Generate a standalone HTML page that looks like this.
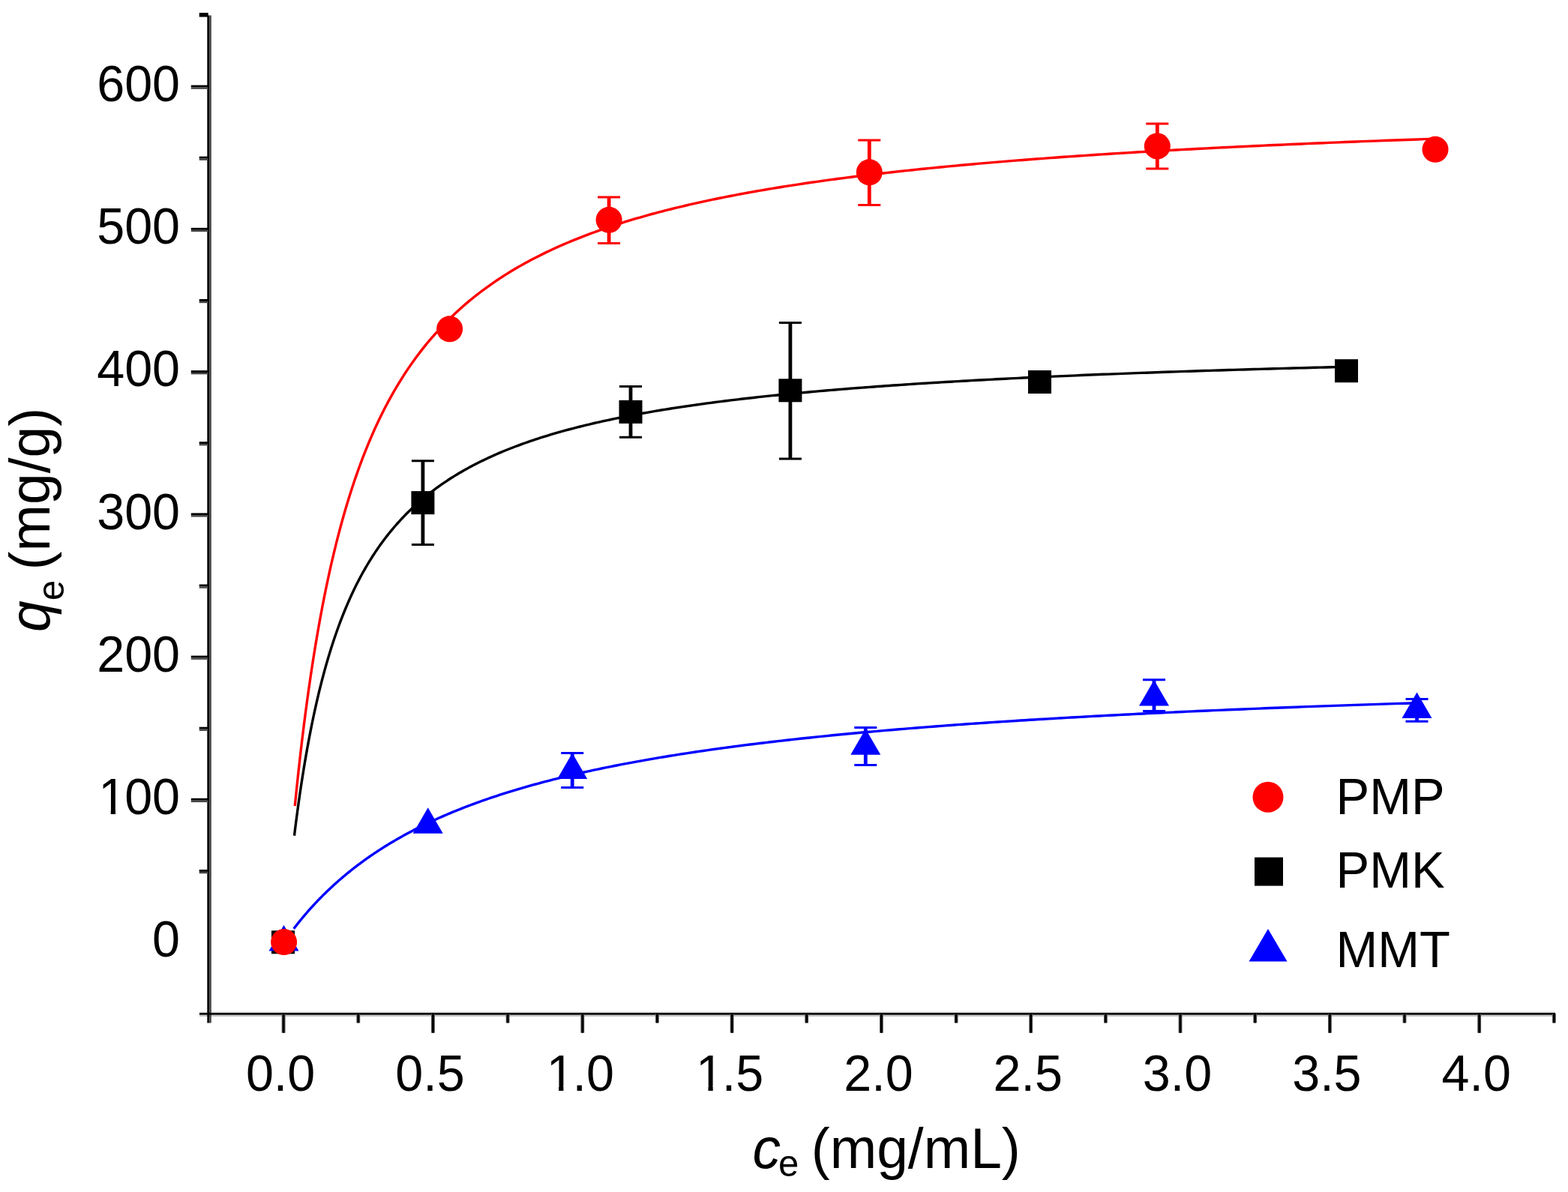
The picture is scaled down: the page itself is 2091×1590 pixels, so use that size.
<!DOCTYPE html>
<html><head><meta charset="utf-8"><style>
html,body{margin:0;padding:0;background:#fff;}
svg{display:block;}
.tl{font-family:"Liberation Sans",Arial,sans-serif;font-size:66.5px;fill:#000;}
.lg{font-family:"Liberation Sans",Arial,sans-serif;font-size:67px;fill:#000;}
.tt{font-family:"Liberation Sans",Arial,sans-serif;font-size:75px;fill:#000;}
.sb{font-family:"Liberation Sans",Arial,sans-serif;font-size:49px;fill:#000;}
</style></head><body>
<svg width="2091" height="1590" viewBox="0 0 2091 1590">
<rect width="2091" height="1590" fill="#fff"/>
<rect x="266" y="1348.3" width="1808" height="2.6" fill="#eee"/>
<rect x="266" y="1353.7" width="1808" height="2.4" fill="#c8c8c8"/>
<rect x="276.3" y="20.5" width="3.0" height="1344" fill="#000"/>
<rect x="279.3" y="20.5" width="2.5" height="1344" fill="#444"/>
<rect x="266" y="1350.9" width="1808" height="2.8" fill="#000"/>
<rect x="265.7" y="1160.0" width="12" height="2.9" fill="#000"/><rect x="265.7" y="1162.9" width="12" height="2.3" fill="#444"/>
<rect x="254.8" y="1064.8" width="23" height="2.9" fill="#000"/><rect x="254.8" y="1067.8" width="23" height="2.3" fill="#444"/>
<rect x="265.7" y="969.7" width="12" height="2.9" fill="#000"/><rect x="265.7" y="972.6" width="12" height="2.3" fill="#444"/>
<rect x="254.8" y="874.6" width="23" height="2.9" fill="#000"/><rect x="254.8" y="877.5" width="23" height="2.3" fill="#444"/>
<rect x="265.7" y="779.5" width="12" height="2.9" fill="#000"/><rect x="265.7" y="782.4" width="12" height="2.3" fill="#444"/>
<rect x="254.8" y="684.4" width="23" height="2.9" fill="#000"/><rect x="254.8" y="687.2" width="23" height="2.3" fill="#444"/>
<rect x="265.7" y="589.2" width="12" height="2.9" fill="#000"/><rect x="265.7" y="592.1" width="12" height="2.3" fill="#444"/>
<rect x="254.8" y="494.1" width="23" height="2.9" fill="#000"/><rect x="254.8" y="497.0" width="23" height="2.3" fill="#444"/>
<rect x="265.7" y="399.0" width="12" height="2.9" fill="#000"/><rect x="265.7" y="401.9" width="12" height="2.3" fill="#444"/>
<rect x="254.8" y="303.9" width="23" height="2.9" fill="#000"/><rect x="254.8" y="306.8" width="23" height="2.3" fill="#444"/>
<rect x="265.7" y="208.7" width="12" height="2.9" fill="#000"/><rect x="265.7" y="211.6" width="12" height="2.3" fill="#444"/>
<rect x="254.8" y="113.6" width="23" height="2.9" fill="#000"/><rect x="254.8" y="116.5" width="23" height="2.3" fill="#444"/>
<rect x="265.7" y="17.1" width="12" height="5.5" fill="#000"/>
<rect x="375.7" y="1352" width="4.8" height="25.7" fill="#555"/><rect x="376.7" y="1352" width="2.8" height="25.7" fill="#000"/>
<rect x="475.4" y="1352" width="4.8" height="12.4" fill="#555"/><rect x="476.4" y="1352" width="2.8" height="12.4" fill="#000"/>
<rect x="575.0" y="1352" width="4.8" height="25.7" fill="#555"/><rect x="576.0" y="1352" width="2.8" height="25.7" fill="#000"/>
<rect x="674.7" y="1352" width="4.8" height="12.4" fill="#555"/><rect x="675.7" y="1352" width="2.8" height="12.4" fill="#000"/>
<rect x="774.4" y="1352" width="4.8" height="25.7" fill="#555"/><rect x="775.4" y="1352" width="2.8" height="25.7" fill="#000"/>
<rect x="874.0" y="1352" width="4.8" height="12.4" fill="#555"/><rect x="875.0" y="1352" width="2.8" height="12.4" fill="#000"/>
<rect x="973.7" y="1352" width="4.8" height="25.7" fill="#555"/><rect x="974.7" y="1352" width="2.8" height="25.7" fill="#000"/>
<rect x="1073.3" y="1352" width="4.8" height="12.4" fill="#555"/><rect x="1074.3" y="1352" width="2.8" height="12.4" fill="#000"/>
<rect x="1173.0" y="1352" width="4.8" height="25.7" fill="#555"/><rect x="1174.0" y="1352" width="2.8" height="25.7" fill="#000"/>
<rect x="1272.7" y="1352" width="4.8" height="12.4" fill="#555"/><rect x="1273.7" y="1352" width="2.8" height="12.4" fill="#000"/>
<rect x="1372.3" y="1352" width="4.8" height="25.7" fill="#555"/><rect x="1373.3" y="1352" width="2.8" height="25.7" fill="#000"/>
<rect x="1472.0" y="1352" width="4.8" height="12.4" fill="#555"/><rect x="1473.0" y="1352" width="2.8" height="12.4" fill="#000"/>
<rect x="1571.6" y="1352" width="4.8" height="25.7" fill="#555"/><rect x="1572.6" y="1352" width="2.8" height="25.7" fill="#000"/>
<rect x="1671.3" y="1352" width="4.8" height="12.4" fill="#555"/><rect x="1672.3" y="1352" width="2.8" height="12.4" fill="#000"/>
<rect x="1771.0" y="1352" width="4.8" height="25.7" fill="#555"/><rect x="1772.0" y="1352" width="2.8" height="25.7" fill="#000"/>
<rect x="1870.6" y="1352" width="4.8" height="12.4" fill="#555"/><rect x="1871.6" y="1352" width="2.8" height="12.4" fill="#000"/>
<rect x="1970.3" y="1352" width="4.8" height="25.7" fill="#555"/><rect x="1971.3" y="1352" width="2.8" height="25.7" fill="#000"/>
<rect x="2070.0" y="1352" width="4.8" height="12.4" fill="#555"/><rect x="2071.0" y="1352" width="2.8" height="12.4" fill="#000"/>
<text transform="translate(203.12,1276.3) scale(1,1.025)" class="tl">0</text>
<text transform="translate(129.15,1086.0) scale(1,1.025)" class="tl"><tspan dx="2.1">1</tspan><tspan dx="-2.1">00</tspan></text>
<text transform="translate(129.15,895.8) scale(1,1.025)" class="tl">200</text>
<text transform="translate(129.15,705.5) scale(1,1.025)" class="tl">300</text>
<text transform="translate(129.15,515.3) scale(1,1.025)" class="tl">400</text>
<text transform="translate(129.15,325.1) scale(1,1.025)" class="tl">500</text>
<text transform="translate(129.15,134.8) scale(1,1.025)" class="tl">600</text>
<text transform="translate(327.88,1455) scale(1,1.025)" class="tl">0.0</text>
<text transform="translate(527.20,1455) scale(1,1.025)" class="tl">0.5</text>
<text transform="translate(726.53,1455) scale(1,1.025)" class="tl"><tspan dx="2.1">1</tspan><tspan dx="-2.1">.0</tspan></text>
<text transform="translate(925.85,1455) scale(1,1.025)" class="tl"><tspan dx="2.1">1</tspan><tspan dx="-2.1">.5</tspan></text>
<text transform="translate(1125.18,1455) scale(1,1.025)" class="tl">2.0</text>
<text transform="translate(1324.50,1455) scale(1,1.025)" class="tl">2.5</text>
<text transform="translate(1523.83,1455) scale(1,1.025)" class="tl">3.0</text>
<text transform="translate(1723.15,1455) scale(1,1.025)" class="tl">3.5</text>
<text transform="translate(1922.48,1455) scale(1,1.025)" class="tl">4.0</text>
<rect x="134.75" y="1079.35" width="13.00" height="7.4" fill="#fff"/><rect x="154.00" y="1079.35" width="13" height="7.4" fill="#fff"/>
<rect x="732.13" y="1448.30" width="13.00" height="7.4" fill="#fff"/><rect x="751.38" y="1448.30" width="13" height="7.4" fill="#fff"/>
<rect x="931.45" y="1448.30" width="13.00" height="7.4" fill="#fff"/><rect x="950.70" y="1448.30" width="13" height="7.4" fill="#fff"/>
<path d="M392.45,1114.78 L392.46,1114.71 L392.49,1114.49 L392.53,1114.13 L392.59,1113.63 L392.67,1112.99 L392.77,1112.20 L392.88,1111.27 L393.02,1110.20 L393.17,1108.99 L393.33,1107.65 L393.52,1106.17 L393.72,1104.56 L393.94,1102.82 L394.18,1100.95 L394.43,1098.95 L394.71,1096.83 L395.00,1094.59 L395.31,1092.22 L395.63,1089.74 L395.98,1087.15 L396.34,1084.45 L396.72,1081.64 L397.11,1078.73 L397.53,1075.71 L397.96,1072.60 L398.41,1069.39 L398.88,1066.10 L399.36,1062.71 L399.86,1059.25 L400.38,1055.70 L400.92,1052.07 L401.48,1048.37 L402.05,1044.61 L402.64,1040.77 L403.25,1036.87 L403.87,1032.92 L404.52,1028.90 L405.18,1024.84 L405.86,1020.72 L406.55,1016.56 L407.27,1012.36 L408.00,1008.12 L408.75,1003.84 L409.51,999.53 L410.30,995.19 L411.10,990.82 L411.92,986.43 L412.76,982.02 L413.61,977.59 L414.48,973.14 L415.37,968.69 L416.28,964.22 L417.21,959.74 L418.15,955.26 L419.11,950.77 L420.09,946.29 L421.09,941.80 L422.10,937.32 L423.13,932.85 L424.18,928.38 L425.24,923.93 L426.33,919.48 L427.43,915.05 L428.55,910.63 L429.69,906.22 L430.84,901.84 L432.01,897.47 L433.20,893.13 L434.41,888.80 L435.64,884.50 L436.88,880.22 L438.14,875.97 L439.42,871.75 L440.71,867.55 L442.02,863.38 L443.36,859.24 L444.70,855.12 L446.07,851.04 L447.45,846.99 L448.86,842.97 L450.27,838.98 L451.71,835.03 L453.16,831.11 L454.64,827.22 L456.13,823.37 L457.63,819.55 L459.16,815.76 L460.70,812.01 L462.26,808.30 L463.84,804.62 L465.43,800.98 L467.05,797.37 L468.68,793.80 L470.32,790.26 L471.99,786.76 L473.67,783.30 L475.37,779.87 L477.09,776.48 L478.83,773.12 L480.58,769.80 L482.35,766.52 L484.14,763.27 L485.95,760.06 L487.77,756.88 L489.62,753.74 L491.47,750.64 L493.35,747.56 L495.25,744.53 L497.16,741.53 L499.09,738.56 L501.04,735.62 L503.00,732.73 L504.99,729.86 L506.99,727.03 L509.00,724.23 L511.04,721.46 L513.09,718.73 L515.16,716.03 L517.25,713.36 L519.36,710.72 L521.48,708.12 L523.63,705.54 L525.78,703.00 L527.96,700.49 L530.16,698.00 L532.37,695.55 L534.60,693.13 L536.84,690.74 L539.11,688.37 L541.39,686.04 L543.69,683.73 L546.01,681.45 L548.35,679.20 L550.70,676.97 L553.07,674.78 L555.46,672.61 L557.86,670.46 L560.29,668.35 L562.73,666.26 L565.19,664.19 L567.66,662.15 L570.16,660.14 L572.67,658.15 L575.20,656.18 L577.75,654.24 L580.31,652.32 L582.89,650.42 L585.49,648.55 L588.11,646.70 L590.75,644.88 L593.40,643.07 L596.07,641.29 L598.76,639.53 L601.46,637.79 L604.19,636.07 L606.93,634.38 L609.68,632.70 L612.46,631.04 L615.25,629.41 L618.07,627.79 L620.89,626.20 L623.74,624.62 L626.61,623.06 L629.49,621.52 L632.39,620.00 L635.30,618.50 L638.24,617.01 L641.19,615.54 L644.16,614.10 L647.15,612.66 L650.15,611.25 L653.18,609.85 L656.22,608.47 L659.28,607.10 L662.35,605.75 L665.44,604.42 L668.56,603.10 L671.68,601.80 L674.83,600.51 L677.99,599.24 L681.18,597.98 L684.38,596.74 L687.59,595.51 L690.83,594.30 L694.08,593.10 L697.35,591.91 L700.64,590.74 L703.94,589.58 L707.26,588.44 L710.60,587.31 L713.96,586.19 L717.34,585.08 L720.73,583.99 L724.14,582.91 L727.57,581.84 L731.01,580.78 L734.48,579.74 L737.96,578.70 L741.46,577.68 L744.97,576.67 L748.51,575.68 L752.06,574.69 L755.63,573.71 L759.22,572.75 L762.82,571.79 L766.44,570.85 L770.08,569.91 L773.74,568.99 L777.41,568.08 L781.11,567.17 L784.82,566.28 L788.55,565.40 L792.29,564.52 L796.05,563.66 L799.84,562.80 L803.63,561.96 L807.45,561.12 L811.28,560.29 L815.13,559.47 L819.00,558.66 L822.89,557.86 L826.79,557.07 L830.72,556.28 L834.66,555.51 L838.61,554.74 L842.59,553.98 L846.58,553.23 L850.59,552.48 L854.62,551.75 L858.66,551.02 L862.73,550.30 L866.81,549.58 L870.90,548.88 L875.02,548.18 L879.15,547.49 L883.30,546.80 L887.47,546.13 L891.66,545.46 L895.86,544.79 L900.08,544.14 L904.32,543.49 L908.58,542.84 L912.85,542.20 L917.15,541.57 L921.46,540.95 L925.78,540.33 L930.13,539.72 L934.49,539.11 L938.87,538.51 L943.27,537.92 L947.68,537.33 L952.12,536.75 L956.57,536.17 L961.04,535.60 L965.52,535.04 L970.02,534.48 L974.55,533.92 L979.08,533.38 L983.64,532.83 L988.21,532.29 L992.81,531.76 L997.42,531.23 L1002.04,530.71 L1006.69,530.19 L1011.35,529.68 L1016.03,529.17 L1020.73,528.67 L1025.44,528.17 L1030.17,527.68 L1034.92,527.19 L1039.69,526.70 L1044.48,526.22 L1049.28,525.75 L1054.10,525.28 L1058.94,524.81 L1063.80,524.35 L1068.67,523.89 L1073.56,523.44 L1078.47,522.99 L1083.40,522.54 L1088.34,522.10 L1093.30,521.66 L1098.28,521.23 L1103.28,520.80 L1108.29,520.38 L1113.32,519.95 L1118.37,519.54 L1123.44,519.12 L1128.53,518.71 L1133.63,518.31 L1138.75,517.90 L1143.89,517.50 L1149.04,517.11 L1154.22,516.72 L1159.41,516.33 L1164.62,515.94 L1169.84,515.56 L1175.09,515.18 L1180.35,514.81 L1185.63,514.43 L1190.92,514.06 L1196.24,513.70 L1201.57,513.34 L1206.92,512.98 L1212.29,512.62 L1217.67,512.27 L1223.07,511.92 L1228.49,511.57 L1233.93,511.23 L1239.39,510.89 L1244.86,510.55 L1250.35,510.21 L1255.86,509.88 L1261.38,509.55 L1266.93,509.22 L1272.49,508.90 L1278.07,508.58 L1283.66,508.26 L1289.28,507.94 L1294.91,507.63 L1300.56,507.32 L1306.23,507.01 L1311.91,506.71 L1317.61,506.40 L1323.33,506.10 L1329.07,505.80 L1334.82,505.51 L1340.60,505.21 L1346.39,504.92 L1352.19,504.64 L1358.02,504.35 L1363.86,504.07 L1369.72,503.78 L1375.60,503.50 L1381.50,503.23 L1387.41,502.95 L1393.34,502.68 L1399.29,502.41 L1405.26,502.14 L1411.24,501.87 L1417.24,501.61 L1423.26,501.35 L1429.30,501.09 L1435.35,500.83 L1441.43,500.57 L1447.52,500.32 L1453.62,500.07 L1459.75,499.82 L1465.89,499.57 L1472.05,499.32 L1478.23,499.08 L1484.43,498.84 L1490.64,498.60 L1496.87,498.36 L1503.12,498.12 L1509.38,497.89 L1515.67,497.65 L1521.97,497.42 L1528.29,497.19 L1534.62,496.97 L1540.98,496.74 L1547.35,496.52 L1553.74,496.29 L1560.15,496.07 L1566.57,495.85 L1573.01,495.63 L1579.47,495.42 L1585.95,495.20 L1592.45,494.99 L1598.96,494.78 L1605.49,494.57 L1612.04,494.36 L1618.60,494.15 L1625.19,493.95 L1631.79,493.75 L1638.41,493.54 L1645.04,493.34 L1651.70,493.14 L1658.37,492.95 L1665.06,492.75 L1671.76,492.55 L1678.49,492.36 L1685.23,492.17 L1691.99,491.98 L1698.77,491.79 L1705.56,491.60 L1712.38,491.41 L1719.21,491.23 L1726.05,491.05 L1732.92,490.86 L1739.80,490.68 L1746.70,490.50 L1753.62,490.32 L1760.56,490.14 L1767.51,489.97 L1774.48,489.79 L1781.47,489.62 L1788.48,489.45 L1795.50,489.27" stroke="#000" stroke-width="3.4" fill="none"/>
<path d="M393.25,1075.07 L393.26,1074.97 L393.29,1074.68 L393.34,1074.20 L393.40,1073.52 L393.49,1072.65 L393.59,1071.59 L393.72,1070.34 L393.86,1068.91 L394.03,1067.29 L394.21,1065.48 L394.41,1063.49 L394.63,1061.32 L394.87,1058.98 L395.13,1056.46 L395.41,1053.77 L395.71,1050.91 L396.02,1047.88 L396.36,1044.69 L396.71,1041.35 L397.09,1037.85 L397.48,1034.20 L397.89,1030.40 L398.32,1026.47 L398.78,1022.39 L399.25,1018.18 L399.74,1013.84 L400.24,1009.37 L400.77,1004.78 L401.32,1000.08 L401.88,995.26 L402.47,990.34 L403.07,985.31 L403.70,980.18 L404.34,974.97 L405.00,969.66 L405.68,964.26 L406.39,958.79 L407.10,953.24 L407.84,947.62 L408.60,941.94 L409.38,936.19 L410.18,930.38 L410.99,924.52 L411.83,918.61 L412.68,912.65 L413.55,906.66 L414.45,900.62 L415.36,894.55 L416.29,888.45 L417.24,882.33 L418.21,876.18 L419.20,870.02 L420.20,863.83 L421.23,857.64 L422.28,851.44 L423.34,845.23 L424.42,839.01 L425.53,832.80 L426.65,826.59 L427.79,820.39 L428.95,814.19 L430.13,808.00 L431.33,801.83 L432.55,795.67 L433.79,789.53 L435.05,783.41 L436.32,777.32 L437.62,771.24 L438.93,765.19 L440.27,759.17 L441.62,753.18 L442.99,747.22 L444.38,741.29 L445.79,735.39 L447.22,729.53 L448.67,723.70 L450.14,717.91 L451.63,712.16 L453.13,706.45 L454.66,700.78 L456.21,695.15 L457.77,689.56 L459.35,684.02 L460.96,678.52 L462.58,673.06 L464.22,667.65 L465.88,662.29 L467.56,656.97 L469.26,651.69 L470.97,646.47 L472.71,641.29 L474.47,636.15 L476.24,631.07 L478.04,626.03 L479.85,621.04 L481.68,616.10 L483.53,611.21 L485.40,606.37 L487.30,601.57 L489.20,596.82 L491.13,592.12 L493.08,587.47 L495.05,582.87 L497.03,578.32 L499.04,573.81 L501.06,569.35 L503.11,564.94 L505.17,560.58 L507.25,556.27 L509.36,552.00 L511.48,547.78 L513.62,543.60 L515.77,539.47 L517.95,535.39 L520.15,531.35 L522.37,527.36 L524.60,523.42 L526.86,519.52 L529.13,515.66 L531.43,511.85 L533.74,508.08 L536.07,504.35 L538.42,500.67 L540.79,497.03 L543.18,493.43 L545.59,489.88 L548.02,486.36 L550.46,482.89 L552.93,479.46 L555.41,476.06 L557.92,472.71 L560.44,469.40 L562.99,466.12 L565.55,462.89 L568.13,459.69 L570.73,456.53 L573.35,453.41 L575.99,450.33 L578.65,447.28 L581.32,444.26 L584.02,441.29 L586.73,438.35 L589.47,435.44 L592.22,432.57 L595.00,429.73 L597.79,426.93 L600.60,424.16 L603.43,421.42 L606.28,418.71 L609.15,416.04 L612.04,413.40 L614.95,410.79 L617.87,408.21 L620.82,405.66 L623.78,403.14 L626.77,400.65 L629.77,398.19 L632.79,395.76 L635.83,393.36 L638.90,390.99 L641.98,388.64 L645.08,386.33 L648.19,384.04 L651.33,381.77 L654.49,379.54 L657.66,377.32 L660.86,375.14 L664.07,372.98 L667.31,370.85 L670.56,368.74 L673.83,366.65 L677.12,364.59 L680.43,362.56 L683.76,360.54 L687.11,358.55 L690.48,356.59 L693.87,354.64 L697.28,352.72 L700.70,350.82 L704.15,348.94 L707.61,347.09 L711.09,345.25 L714.60,343.44 L718.12,341.65 L721.66,339.87 L725.22,338.12 L728.80,336.39 L732.40,334.67 L736.01,332.98 L739.65,331.30 L743.31,329.65 L746.98,328.01 L750.67,326.39 L754.39,324.79 L758.12,323.21 L761.87,321.64 L765.64,320.09 L769.43,318.56 L773.24,317.05 L777.07,315.55 L780.92,314.07 L784.79,312.61 L788.67,311.16 L792.58,309.73 L796.50,308.31 L800.45,306.91 L804.41,305.52 L808.39,304.15 L812.39,302.79 L816.41,301.45 L820.45,300.12 L824.51,298.81 L828.59,297.51 L832.69,296.23 L836.80,294.96 L840.94,293.70 L845.10,292.45 L849.27,291.22 L853.46,290.01 L857.68,288.80 L861.91,287.61 L866.16,286.43 L870.43,285.26 L874.72,284.10 L879.03,282.96 L883.35,281.83 L887.70,280.71 L892.07,279.60 L896.45,278.50 L900.86,277.42 L905.28,276.35 L909.72,275.28 L914.18,274.23 L918.66,273.19 L923.16,272.16 L927.68,271.14 L932.22,270.13 L936.78,269.13 L941.36,268.14 L945.95,267.16 L950.57,266.19 L955.20,265.23 L959.86,264.28 L964.53,263.33 L969.22,262.40 L973.94,261.48 L978.67,260.57 L983.42,259.66 L988.18,258.77 L992.97,257.88 L997.78,257.00 L1002.61,256.13 L1007.45,255.27 L1012.32,254.42 L1017.20,253.57 L1022.10,252.74 L1027.03,251.91 L1031.97,251.09 L1036.93,250.27 L1041.91,249.47 L1046.91,248.67 L1051.93,247.88 L1056.97,247.10 L1062.02,246.33 L1067.10,245.56 L1072.19,244.80 L1077.31,244.05 L1082.44,243.30 L1087.59,242.56 L1092.77,241.83 L1097.96,241.11 L1103.17,240.39 L1108.40,239.68 L1113.65,238.97 L1118.91,238.27 L1124.20,237.58 L1129.51,236.90 L1134.83,236.22 L1140.18,235.54 L1145.54,234.88 L1150.93,234.21 L1156.33,233.56 L1161.75,232.91 L1167.19,232.27 L1172.65,231.63 L1178.13,231.00 L1183.63,230.37 L1189.14,229.75 L1194.68,229.14 L1200.24,228.53 L1205.81,227.92 L1211.41,227.32 L1217.02,226.73 L1222.65,226.14 L1228.30,225.56 L1233.98,224.98 L1239.67,224.41 L1245.38,223.84 L1251.10,223.28 L1256.85,222.72 L1262.62,222.17 L1268.40,221.62 L1274.21,221.07 L1280.03,220.54 L1285.88,220.00 L1291.74,219.47 L1297.62,218.95 L1303.52,218.43 L1309.44,217.91 L1315.38,217.40 L1321.34,216.89 L1327.32,216.39 L1333.32,215.89 L1339.34,215.39 L1345.37,214.90 L1351.43,214.41 L1357.50,213.93 L1363.59,213.45 L1369.71,212.98 L1375.84,212.51 L1381.99,212.04 L1388.16,211.58 L1394.35,211.12 L1400.55,210.66 L1406.78,210.21 L1413.03,209.76 L1419.30,209.32 L1425.58,208.88 L1431.88,208.44 L1438.21,208.01 L1444.55,207.58 L1450.91,207.15 L1457.29,206.73 L1463.69,206.31 L1470.11,205.89 L1476.55,205.48 L1483.01,205.07 L1489.49,204.66 L1495.98,204.26 L1502.50,203.86 L1509.03,203.46 L1515.59,203.06 L1522.16,202.67 L1528.75,202.28 L1535.36,201.90 L1541.99,201.52 L1548.64,201.14 L1555.31,200.76 L1562.00,200.39 L1568.71,200.02 L1575.43,199.65 L1582.18,199.29 L1588.95,198.93 L1595.73,198.57 L1602.53,198.21 L1609.35,197.86 L1616.20,197.51 L1623.06,197.16 L1629.94,196.81 L1636.84,196.47 L1643.75,196.13 L1650.69,195.79 L1657.65,195.46 L1664.63,195.12 L1671.62,194.79 L1678.63,194.47 L1685.67,194.14 L1692.72,193.82 L1699.79,193.50 L1706.88,193.18 L1713.99,192.86 L1721.12,192.55 L1728.27,192.24 L1735.44,191.93 L1742.63,191.62 L1749.83,191.32 L1757.06,191.02 L1764.30,190.72 L1771.57,190.42 L1778.85,190.12 L1786.15,189.83 L1793.47,189.54 L1800.82,189.25 L1808.18,188.96 L1815.55,188.67 L1822.95,188.39 L1830.37,188.11 L1837.81,187.83 L1845.26,187.55 L1852.74,187.28 L1860.23,187.00 L1867.74,186.73 L1875.28,186.46 L1882.83,186.20 L1890.40,185.93 L1897.99,185.67 L1905.60,185.40 L1913.23,185.14 L1920.88,184.88" stroke="#FF0000" stroke-width="3.4" fill="none"/>
<path d="M391.65,1238.90 L391.66,1238.89 L391.69,1238.86 L391.74,1238.79 L391.80,1238.71 L391.89,1238.60 L391.99,1238.46 L392.11,1238.30 L392.26,1238.12 L392.42,1237.91 L392.59,1237.68 L392.79,1237.43 L393.01,1237.15 L393.24,1236.84 L393.50,1236.52 L393.77,1236.17 L394.06,1235.79 L394.37,1235.40 L394.70,1234.98 L395.05,1234.53 L395.42,1234.07 L395.80,1233.58 L396.21,1233.07 L396.63,1232.53 L397.07,1231.98 L397.53,1231.40 L398.01,1230.80 L398.51,1230.18 L399.03,1229.54 L399.56,1228.88 L400.12,1228.20 L400.69,1227.50 L401.29,1226.77 L401.90,1226.03 L402.53,1225.27 L403.18,1224.49 L403.84,1223.69 L404.53,1222.87 L405.24,1222.04 L405.96,1221.18 L406.70,1220.31 L407.46,1219.42 L408.25,1218.51 L409.04,1217.59 L409.86,1216.65 L410.70,1215.69 L411.56,1214.72 L412.43,1213.73 L413.32,1212.73 L414.24,1211.71 L415.17,1210.68 L416.12,1209.63 L417.09,1208.57 L418.07,1207.50 L419.08,1206.41 L420.11,1205.31 L421.15,1204.20 L422.21,1203.07 L423.29,1201.93 L424.39,1200.79 L425.51,1199.63 L426.65,1198.46 L427.81,1197.28 L428.98,1196.08 L430.18,1194.88 L431.39,1193.67 L432.62,1192.45 L433.87,1191.23 L435.14,1189.99 L436.43,1188.74 L437.74,1187.49 L439.07,1186.23 L440.41,1184.96 L441.77,1183.69 L443.16,1182.40 L444.56,1181.12 L445.98,1179.82 L447.42,1178.52 L448.88,1177.22 L450.35,1175.91 L451.85,1174.59 L453.36,1173.27 L454.90,1171.95 L456.45,1170.62 L458.02,1169.29 L459.61,1167.95 L461.22,1166.62 L462.84,1165.27 L464.49,1163.93 L466.15,1162.58 L467.84,1161.24 L469.54,1159.89 L471.26,1158.53 L473.00,1157.18 L474.76,1155.82 L476.54,1154.47 L478.33,1153.11 L480.15,1151.76 L481.98,1150.40 L483.84,1149.04 L485.71,1147.68 L487.60,1146.33 L489.51,1144.97 L491.43,1143.61 L493.38,1142.26 L495.35,1140.91 L497.33,1139.55 L499.34,1138.20 L501.36,1136.85 L503.40,1135.51 L505.46,1134.16 L507.54,1132.82 L509.63,1131.48 L511.75,1130.14 L513.89,1128.80 L516.04,1127.47 L518.21,1126.14 L520.40,1124.81 L522.61,1123.49 L524.84,1122.17 L527.09,1120.85 L529.36,1119.54 L531.64,1118.23 L533.95,1116.92 L536.27,1115.62 L538.61,1114.32 L540.97,1113.03 L543.35,1111.74 L545.75,1110.45 L548.17,1109.17 L550.60,1107.89 L553.06,1106.62 L555.53,1105.36 L558.02,1104.09 L560.54,1102.84 L563.07,1101.58 L565.61,1100.34 L568.18,1099.09 L570.77,1097.86 L573.37,1096.63 L576.00,1095.40 L578.64,1094.18 L581.30,1092.96 L583.98,1091.75 L586.68,1090.55 L589.40,1089.35 L592.14,1088.15 L594.89,1086.96 L597.67,1085.78 L600.46,1084.61 L603.27,1083.43 L606.10,1082.27 L608.95,1081.11 L611.82,1079.96 L614.71,1078.81 L617.62,1077.67 L620.54,1076.53 L623.48,1075.40 L626.45,1074.28 L629.43,1073.16 L632.43,1072.05 L635.45,1070.94 L638.49,1069.84 L641.54,1068.75 L644.62,1067.66 L647.71,1066.58 L650.83,1065.51 L653.96,1064.44 L657.11,1063.38 L660.28,1062.32 L663.47,1061.27 L666.67,1060.22 L669.90,1059.19 L673.14,1058.15 L676.41,1057.13 L679.69,1056.11 L682.99,1055.09 L686.31,1054.09 L689.65,1053.09 L693.01,1052.09 L696.39,1051.10 L699.78,1050.12 L703.19,1049.14 L706.63,1048.17 L710.08,1047.20 L713.55,1046.24 L717.04,1045.29 L720.55,1044.34 L724.07,1043.40 L727.62,1042.47 L731.18,1041.54 L734.77,1040.62 L738.37,1039.70 L741.99,1038.79 L745.63,1037.88 L749.29,1036.98 L752.97,1036.09 L756.66,1035.20 L760.38,1034.32 L764.11,1033.44 L767.87,1032.57 L771.64,1031.71 L775.43,1030.85 L779.24,1029.99 L783.06,1029.14 L786.91,1028.30 L790.78,1027.46 L794.66,1026.63 L798.56,1025.81 L802.49,1024.99 L806.43,1024.17 L810.39,1023.36 L814.36,1022.56 L818.36,1021.76 L822.38,1020.97 L826.41,1020.18 L830.47,1019.40 L834.54,1018.62 L838.63,1017.85 L842.74,1017.08 L846.87,1016.32 L851.02,1015.56 L855.18,1014.81 L859.37,1014.07 L863.57,1013.33 L867.80,1012.59 L872.04,1011.86 L876.30,1011.13 L880.58,1010.41 L884.88,1009.70 L889.19,1008.99 L893.53,1008.28 L897.88,1007.58 L902.26,1006.88 L906.65,1006.19 L911.06,1005.50 L915.49,1004.82 L919.94,1004.14 L924.41,1003.47 L928.89,1002.80 L933.40,1002.14 L937.92,1001.48 L942.46,1000.83 L947.03,1000.18 L951.61,999.53 L956.21,998.89 L960.82,998.25 L965.46,997.62 L970.12,996.99 L974.79,996.37 L979.48,995.75 L984.20,995.13 L988.93,994.52 L993.68,993.92 L998.44,993.31 L1003.23,992.72 L1008.04,992.12 L1012.86,991.53 L1017.71,990.95 L1022.57,990.36 L1027.45,989.79 L1032.35,989.21 L1037.27,988.64 L1042.21,988.08 L1047.16,987.52 L1052.14,986.96 L1057.13,986.40 L1062.15,985.85 L1067.18,985.31 L1072.23,984.76 L1077.30,984.22 L1082.39,983.69 L1087.49,983.16 L1092.62,982.63 L1097.76,982.10 L1102.93,981.58 L1108.11,981.06 L1113.31,980.55 L1118.53,980.04 L1123.77,979.53 L1129.03,979.03 L1134.30,978.53 L1139.60,978.03 L1144.91,977.54 L1150.25,977.05 L1155.60,976.56 L1160.97,976.08 L1166.36,975.60 L1171.77,975.12 L1177.19,974.65 L1182.64,974.18 L1188.10,973.71 L1193.59,973.25 L1199.09,972.79 L1204.61,972.33 L1210.15,971.88 L1215.71,971.42 L1221.28,970.98 L1226.88,970.53 L1232.50,970.09 L1238.13,969.65 L1243.78,969.21 L1249.45,968.78 L1255.14,968.35 L1260.85,967.92 L1266.58,967.50 L1272.33,967.07 L1278.09,966.65 L1283.88,966.24 L1289.68,965.82 L1295.50,965.41 L1301.34,965.01 L1307.20,964.60 L1313.08,964.20 L1318.98,963.80 L1324.89,963.40 L1330.83,963.01 L1336.78,962.61 L1342.75,962.22 L1348.74,961.84 L1354.75,961.45 L1360.78,961.07 L1366.83,960.69 L1372.90,960.31 L1378.98,959.94 L1385.09,959.57 L1391.21,959.20 L1397.35,958.83 L1403.51,958.47 L1409.69,958.10 L1415.89,957.74 L1422.11,957.39 L1428.34,957.03 L1434.60,956.68 L1440.87,956.33 L1447.16,955.98 L1453.47,955.63 L1459.80,955.29 L1466.15,954.95 L1472.52,954.61 L1478.90,954.27 L1485.31,953.94 L1491.73,953.60 L1498.18,953.27 L1504.64,952.94 L1511.12,952.62 L1517.62,952.29 L1524.13,951.97 L1530.67,951.65 L1537.23,951.33 L1543.80,951.02 L1550.39,950.70 L1557.01,950.39 L1563.64,950.08 L1570.29,949.77 L1576.95,949.46 L1583.64,949.16 L1590.35,948.86 L1597.07,948.56 L1603.82,948.26 L1610.58,947.96 L1617.36,947.67 L1624.16,947.37 L1630.98,947.08 L1637.82,946.79 L1644.67,946.50 L1651.55,946.22 L1658.44,945.93 L1665.35,945.65 L1672.29,945.37 L1679.24,945.09 L1686.21,944.82 L1693.19,944.54 L1700.20,944.27 L1707.23,943.99 L1714.27,943.72 L1721.33,943.46 L1728.42,943.19 L1735.52,942.92 L1742.64,942.66 L1749.78,942.40 L1756.93,942.14 L1764.11,941.88 L1771.30,941.62 L1778.52,941.36 L1785.75,941.11 L1793.00,940.86 L1800.27,940.61 L1807.56,940.36 L1814.87,940.11 L1822.20,939.86 L1829.54,939.62 L1836.91,939.37 L1844.29,939.13 L1851.69,938.89 L1859.11,938.65 L1866.55,938.41 L1874.01,938.18 L1881.49,937.94 L1888.98,937.71" stroke="#0000FF" stroke-width="3.4" fill="none"/>
<rect x="362.0" y="1241.3" width="31" height="31" fill="#000"/>
<path d="M563.9,614.8 V726.6" stroke="#000" stroke-width="4.8" fill="none"/><path d="M548.9,614.8 H578.9 M548.9,726.6 H578.9" stroke="#000" stroke-width="3" fill="none"/>
<rect x="548.4" y="655.1" width="31" height="31" fill="#000"/>
<path d="M841.0,515.6 V583.3" stroke="#000" stroke-width="4.8" fill="none"/><path d="M826.0,515.6 H856.0 M826.0,583.3 H856.0" stroke="#000" stroke-width="3" fill="none"/>
<rect x="825.5" y="533.9" width="31" height="31" fill="#000"/>
<path d="M1053.9,430.5 V612.0" stroke="#000" stroke-width="4.8" fill="none"/><path d="M1038.9,430.5 H1068.9 M1038.9,612.0 H1068.9" stroke="#000" stroke-width="3" fill="none"/>
<rect x="1038.4" y="505.3" width="31" height="31" fill="#000"/>
<rect x="1371.0" y="494.0" width="31" height="31" fill="#000"/>
<rect x="1780.0" y="479.2" width="31" height="31" fill="#000"/>
<polygon points="378.5,1233.9 358.5,1268.5 398.5,1268.5" fill="#0000FF"/>
<polygon points="570.7,1077.2 550.7,1111.8 590.7,1111.8" fill="#0000FF"/>
<path d="M763.2,1004.5 V1050.5" stroke="#0000FF" stroke-width="4.8" fill="none"/><path d="M748.2,1004.5 H778.2 M748.2,1050.5 H778.2" stroke="#0000FF" stroke-width="3" fill="none"/>
<polygon points="763.2,1004.4 743.2,1039.0 783.2,1039.0" fill="#0000FF"/>
<path d="M1154.3,970.4 V1020.5" stroke="#0000FF" stroke-width="4.8" fill="none"/><path d="M1139.3,970.4 H1169.3 M1139.3,1020.5 H1169.3" stroke="#0000FF" stroke-width="3" fill="none"/>
<polygon points="1154.3,972.2 1134.3,1006.8 1174.3,1006.8" fill="#0000FF"/>
<path d="M1539.0,906.8 V948.6" stroke="#0000FF" stroke-width="4.8" fill="none"/><path d="M1524.0,906.8 H1554.0 M1524.0,948.6 H1554.0" stroke="#0000FF" stroke-width="3" fill="none"/>
<polygon points="1539.0,907.0 1519.0,941.6 1559.0,941.6" fill="#0000FF"/>
<path d="M1889.5,932.4 V962.2" stroke="#0000FF" stroke-width="4.8" fill="none"/><path d="M1874.5,932.4 H1904.5 M1874.5,962.2 H1904.5" stroke="#0000FF" stroke-width="3" fill="none"/>
<polygon points="1889.5,923.4 1869.5,958.0 1909.5,958.0" fill="#0000FF"/>
<circle cx="378.6" cy="1256.6" r="17.5" fill="#FF0000"/>
<circle cx="599.6" cy="438.8" r="17.5" fill="#FF0000"/>
<path d="M812.1,263.0 V324.5" stroke="#FF0000" stroke-width="4.8" fill="none"/><path d="M797.1,263.0 H827.1 M797.1,324.5 H827.1" stroke="#FF0000" stroke-width="3" fill="none"/>
<circle cx="812.1" cy="293.3" r="17.5" fill="#FF0000"/>
<path d="M1159.3,187.0 V273.5" stroke="#FF0000" stroke-width="4.8" fill="none"/><path d="M1144.3,187.0 H1174.3 M1144.3,273.5 H1174.3" stroke="#FF0000" stroke-width="3" fill="none"/>
<circle cx="1159.3" cy="229.8" r="17.5" fill="#FF0000"/>
<path d="M1543.3,165.0 V225.0" stroke="#FF0000" stroke-width="4.8" fill="none"/><path d="M1528.3,165.0 H1558.3 M1528.3,225.0 H1558.3" stroke="#FF0000" stroke-width="3" fill="none"/>
<circle cx="1543.3" cy="195.0" r="17.5" fill="#FF0000"/>
<circle cx="1914.0" cy="199.3" r="17.5" fill="#FF0000"/>
<circle cx="1691.0" cy="1063.3" r="20.5" fill="#FF0000"/>
<rect x="1673.0" y="1143.6" width="38" height="38" fill="#000"/>
<polygon points="1691,1238.9 1665.5,1282.6 1716.6,1282.6" fill="#0000FF"/>
<text transform="translate(1781.5,1086) scale(1,1.025)" class="lg">PMP</text>
<text transform="translate(1781.5,1184.2) scale(1,1.025)" class="lg">PMK</text>
<text transform="translate(1781.5,1290) scale(1,1.025)" class="lg">MMT</text>
<text transform="translate(1003.5,1558) scale(1,1.01)" class="tt" font-style="italic">c</text>
<text transform="translate(1038,1569) scale(1,1.01)" class="sb">e</text>
<text transform="translate(1081.7,1558) scale(1,1.01)" class="tt">(mg/mL)</text>
<g transform="translate(66.3,0) rotate(-90)"><text transform="translate(-843,0) scale(1,1.01)" class="tt" font-style="italic">q</text><text transform="translate(-801,18.7) scale(1,1.01)" class="sb">e</text><text transform="translate(-760.5,0) scale(1,1.01)" class="tt">(mg/g)</text></g>
</svg>
</body></html>
